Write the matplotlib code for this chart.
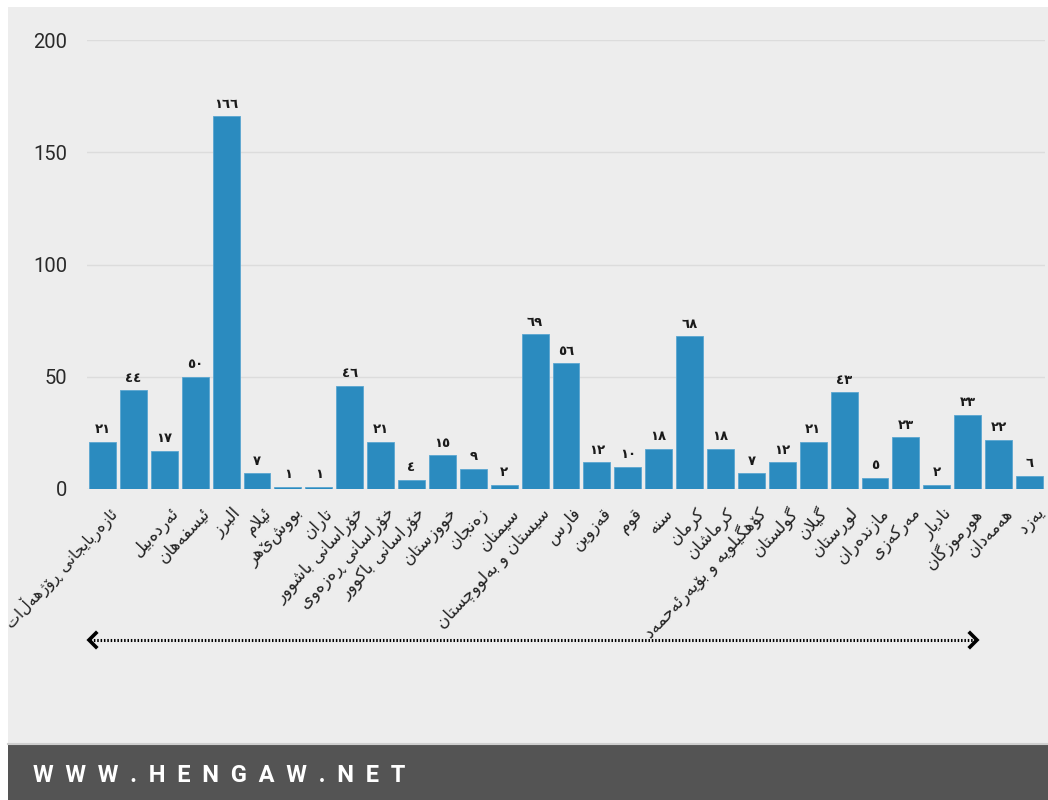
import matplotlib
matplotlib.use("Agg")
import matplotlib.pyplot as plt
import matplotlib.transforms as mtransforms
from matplotlib.font_manager import FontProperties, findfont
from matplotlib.ft2font import FT2Font
from matplotlib.patches import Rectangle
from matplotlib.lines import Line2D

# ---------------- data ----------------
provinces = [
    "ئازەربایجانی ڕۆژهەڵات", "", "ئەردەبیل", "ئیسفەهان", "البرز", "ئیلام",
    "بووشێهر", "تاران", "خۆراسانی باشوور", "خۆراسانی ڕەزەوی", "خۆراسانی باکوور",
    "خووزستان", "زەنجان", "سیمنان", "سیستان و بەلووچستان", "فارس", "قەزوین",
    "قوم", "سنە", "کرمان", "کرماشان", "کۆهگیلویە و بۆیەرئەحمەد", "گولستان",
    "گیلان", "لوڕستان", "مازندەران", "مەرکەزی", "نادیار", "هورموزگان",
    "هەمەدان", "یەزد",
]
values = [21, 44, 17, 50, 166, 7, 1, 1, 46, 21, 4, 15, 9, 2, 69, 56, 12, 10,
          18, 68, 18, 7, 12, 21, 43, 5, 23, 2, 33, 22, 6]
y_ticks = [0, 50, 100, 150, 200]
footer_text = "WWW.HENGAW.NET"

# ---------------- minimal Arabic-script shaping ----------------
ar_font_path = findfont(FontProperties(family="DejaVu Sans"))
charmap = FT2Font(ar_font_path).get_charmap()

# (isolated, final, initial, medial); None initial => right-joining only
FORMS = {
    "\u0626": ("\uFE89", "\uFE8A", "\uFE8B", "\uFE8C"),
    "\u0627": ("\uFE8D", "\uFE8E", None, None),
    "\u0628": ("\uFE8F", "\uFE90", "\uFE91", "\uFE92"),
    "\u062A": ("\uFE95", "\uFE96", "\uFE97", "\uFE98"),
    "\u062C": ("\uFE9D", "\uFE9E", "\uFE9F", "\uFEA0"),
    "\u062D": ("\uFEA1", "\uFEA2", "\uFEA3", "\uFEA4"),
    "\u062E": ("\uFEA5", "\uFEA6", "\uFEA7", "\uFEA8"),
    "\u062F": ("\uFEA9", "\uFEAA", None, None),
    "\u0631": ("\uFEAD", "\uFEAE", None, None),
    "\u0632": ("\uFEAF", "\uFEB0", None, None),
    "\u0633": ("\uFEB1", "\uFEB2", "\uFEB3", "\uFEB4"),
    "\u0634": ("\uFEB5", "\uFEB6", "\uFEB7", "\uFEB8"),
    "\u0639": ("\uFEC9", "\uFECA", "\uFECB", "\uFECC"),
    "\u0641": ("\uFED1", "\uFED2", "\uFED3", "\uFED4"),
    "\u0642": ("\uFED5", "\uFED6", "\uFED7", "\uFED8"),
    "\u0644": ("\uFEDD", "\uFEDE", "\uFEDF", "\uFEE0"),
    "\u0645": ("\uFEE1", "\uFEE2", "\uFEE3", "\uFEE4"),
    "\u0646": ("\uFEE5", "\uFEE6", "\uFEE7", "\uFEE8"),
    "\u0647": ("\uFEE9", "\uFEEA", "\uFEEB", "\uFEEC"),
    "\u0648": ("\uFEED", "\uFEEE", None, None),
    "\u067E": ("\uFB56", "\uFB57", "\uFB58", "\uFB59"),
    "\u0686": ("\uFB7A", "\uFB7B", "\uFB7C", "\uFB7D"),
    "\u0698": ("\uFB8A", "\uFB8B", None, None),
    "\u06A9": ("\uFB8E", "\uFB8F", "\uFB90", "\uFB91"),
    "\u06AF": ("\uFB92", "\uFB93", "\uFB94", "\uFB95"),
    "\u06CC": ("\uFBFC", "\uFBFD", "\uFBFE", "\uFBFF"),
    "\u06C6": ("\uFBD9", "\uFBDA", None, None),
    "\u06D5": ("\uFEE9", "\uFEEA", None, None),
    "\u0695": ("\u0695", "\u0695", None, None),
}
FALLBACK = {  # if the font lacks a Persian/Kurdish presentation form
    "\u06CC": ("\uFEEF", "\uFEF0", "\uFEF3", "\uFEF4"),
    "\u06A9": ("\uFED9", "\uFEDA", "\uFEDB", "\uFEDC"),
}


def has(ch):
    return ord(ch) in charmap


def jtype(ch):
    f = FORMS.get(ch)
    if f is None:
        return "U"
    return "D" if f[2] is not None else "R"


def shape(text):
    chars = list(text)
    out = []
    i = 0
    n = len(chars)
    while i < n:
        c = chars[i]
        prev_c = chars[i - 1] if i > 0 else None
        next_c = chars[i + 1] if i + 1 < n else None
        jc = jtype(c)
        if jc == "U":
            out.append(c)
            i += 1
            continue
        con_prev = prev_c is not None and jtype(prev_c) == "D"
        # lam-alef ligature
        if c == "\u0644" and next_c == "\u0627":
            lig = "\uFEFC" if con_prev else "\uFEFB"
            if has(lig):
                out.append(lig)
                i += 2
                continue
        con_next = jc == "D" and next_c is not None and jtype(next_c) != "U"
        idx = 3 if (con_prev and con_next) else 1 if con_prev else 2 if con_next else 0
        forms = FORMS[c]
        g = forms[idx]
        if g is None or not has(g):
            fb = FALLBACK.get(c)
            if fb is not None and has(fb[idx]):
                g = fb[idx]
            else:
                g = c
        out.append(g)
        i += 1
    return "".join(reversed(out))


def arabic_digits(v):
    return "".join(chr(0x660 + int(d)) for d in str(v))


# ---------------- figure ----------------
W, H = 1048, 800
fig = plt.figure(figsize=(W / 100, H / 100), dpi=100, facecolor="white")


def fx(px):
    return px / W


def fy(py):
    return 1 - py / H


# panel and footer (behind the axes)
fig.patches.append(Rectangle((fx(8), fy(743)), fx(1040), 736 / H,
                             transform=fig.transFigure, facecolor="#ededed",
                             edgecolor="none", zorder=-10))
fig.patches.append(Rectangle((fx(8), 0), fx(1040), 56 / H,
                             transform=fig.transFigure, facecolor="#545454",
                             edgecolor="none", zorder=-10))
fig.lines.append(Line2D([fx(8), 1], [fy(744), fy(744)], transform=fig.transFigure,
                        color="#cfcfcf", lw=1.5, zorder=-9))

ax = fig.add_axes([fx(87), fy(489), fx(958), (489 - 40) / H])
ax.set_zorder(1)
ax.set_facecolor("none")

x = list(range(len(values)))
ax.bar(x, values, width=0.87, color="#2b8bbf", edgecolor="#5aa6d1",
       linewidth=0.6, zorder=3)

ax.set_xlim(-0.5, len(values) - 0.5)
ax.set_ylim(0, 200)
ax.set_yticks(y_ticks)
ax.set_yticklabels([str(t) for t in y_ticks], fontsize=14.5, color="#2a2a2a",
                   family=["Roboto", "DejaVu Sans"])
ax.tick_params(axis="y", length=0, pad=14)
ax.set_xticks([])
ax.grid(axis="y", color="#dcdcdc", lw=1, zorder=0)
for s in ax.spines.values():
    s.set_visible(False)

# value labels
for xi, v in zip(x, values):
    ax.annotate(arabic_digits(v), (xi, v), xytext=(0, 4), textcoords="offset points",
                ha="center", va="bottom", fontsize=9.5, fontweight="bold",
                color="#1a1a1a", family="DejaVu Sans", zorder=4)

# rotated category labels
trans = mtransforms.blended_transform_factory(ax.transData, ax.transAxes)
offset = mtransforms.ScaledTranslation(5 / 100, -15 / 100, fig.dpi_scale_trans)
cat_texts = []
for xi, name in zip(x, provinces):
    if not name:
        continue
    t = ax.text(xi, 0, shape(name), transform=trans + offset, rotation=47,
                rotation_mode="anchor", ha="right", va="top", fontsize=12,
                color="#222222", family="DejaVu Sans", clip_on=False)
    cat_texts.append(t)

# shrink any label that would run past the left edge of the figure
fig.canvas.draw()
renderer = fig.canvas.get_renderer()
for t in cat_texts:
    bb = t.get_window_extent(renderer)
    if bb.x0 < 2:
        avail = bb.x1 - 2
        t.set_fontsize(12 * avail / bb.width)

# dotted double-headed arrow
ay = fy(640)
fig.lines.append(Line2D([fx(90), fx(976)], [ay, ay], transform=fig.transFigure,
                        color="black", lw=2.2, linestyle=(0, (0.5, 0.6)),
                        solid_capstyle="butt", dash_capstyle="butt"))
for xs in ((96, 89, 96), (970, 977, 970)):
    fig.lines.append(Line2D([fx(xs[0]), fx(xs[1]), fx(xs[2])],
                            [fy(633), ay, fy(647)], transform=fig.transFigure,
                            color="black", lw=2.6, solid_joinstyle="miter"))

# footer text
fig.text(fx(33), fy(775), "  ".join(footer_text), color="white", fontsize=17,
         fontweight="bold", family=["Liberation Sans Narrow", "Roboto"],
         ha="left", va="center")

fig.savefig("out.png", dpi=100, facecolor="white")
